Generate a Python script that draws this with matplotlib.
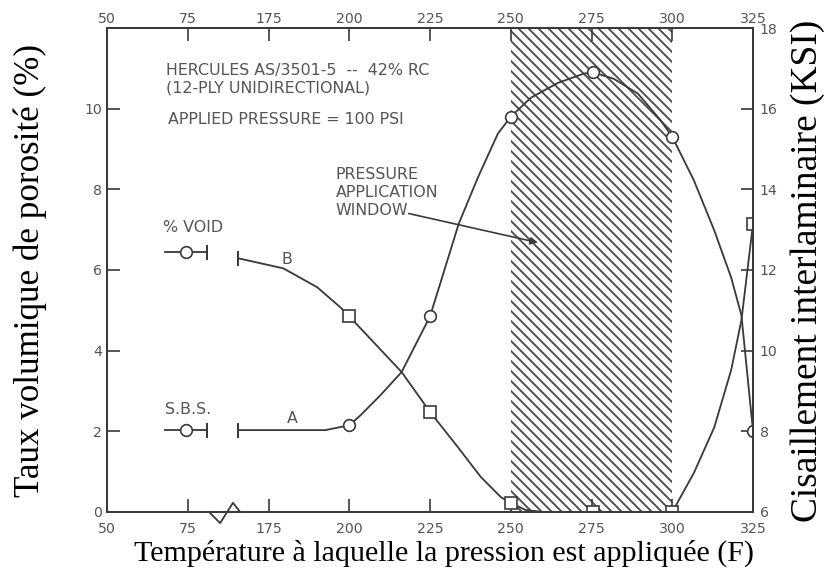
import numpy as np
import matplotlib
matplotlib.use("Agg")
import matplotlib.pyplot as plt

plt.rcParams["hatch.linewidth"] = 1.1
plt.rcParams["hatch.color"] = "#4a4a4a"

INK = "#3a3a3a"
LETTER = "#555555"
STENCIL = ["Liberation Sans Narrow", "DejaVu Sans"]
SERIF = ["Liberation Serif", "DejaVu Serif"]

# temperature axis is broken between 75 and 175 F
brk_t = [50, 75, 175, 325]
brk_u = [0, 1, 2, 8]

temp_ticks = [50, 75, 175, 200, 225, 250, 275, 300, 325]
void_ticks = [0, 2, 4, 6, 8, 10]
sbs_ticks = [6, 8, 10, 12, 14, 16, 18]

# test points
sbs_temp = [200, 225, 250, 275.5, 300, 325]
sbs_ksi = [8.15, 10.85, 15.8, 16.9, 15.3, 8.0]
void_temp = [200, 225, 250, 275.5, 300, 325]
void_pct = [4.85, 2.48, 0.22, 0.0, 0.0, 7.15]

# faired curves (A = short beam shear, B = void content)
sbs_curve_t = [192.6, 200, 203.5, 209.7, 216.2, 225, 233.9, 239.8, 246.0, 250,
               256.2, 264.6, 272.7, 275.5, 281.9, 289.4, 296.5, 300, 306.7, 313.0,
               318.2, 321.4, 325]
sbs_curve_ksi = [8.03, 8.15, 8.40, 8.90, 9.47, 10.85, 13.15, 14.29, 15.38, 15.8,
                 16.27, 16.64, 16.87, 16.9, 16.74, 16.37, 15.70, 15.3, 14.22, 12.98,
                 11.82, 10.88, 8.0]
void_curve_t = [179.6, 190.1, 197.3, 200, 216.2, 225, 233.6, 240.7, 246.9, 250,
                254.6, 260, 275.5, 300, 306.7, 313.0, 318.2, 321.4, 325]
void_curve_pct = [6.04, 5.57, 5.07, 4.85, 3.47, 2.48, 1.61, 0.87, 0.37, 0.22,
                  0.05, 0.0, 0.0, 0.0, 0.97, 2.10, 3.51, 4.75, 7.15]
sbs_start = 8.03
void_start = 6.29

window = (250, 300)


def fwd(t):
    return np.interp(t, brk_t, brk_u)


def inv(u):
    return np.interp(u, brk_u, brk_t)


fig = plt.figure(figsize=(833 / 120, 581 / 120), dpi=120)
ax = fig.add_axes([0.1285, 0.1188, 0.7755, 0.833])
ax.set_xscale("function", functions=(fwd, inv))
ax.set_xlim(50, 325)
ax.set_ylim(0, 12)
ax2 = ax.twinx()
ax2.set_ylim(6, 18)
# separate top axis so its labels can sit closer to the frame
ax_top = ax.twiny()
ax_top.set_xscale("function", functions=(fwd, inv))
ax_top.set_xlim(50, 325)

for a in (ax, ax2, ax_top):
    for s in a.spines.values():
        s.set_color(INK)
        s.set_linewidth(1.2)

tick_kw = dict(direction="in", width=1.0, color=INK, labelcolor=LETTER,
               labelsize=8.5)
ax.set_xticks(temp_ticks)
ax.set_xticklabels([str(t) for t in temp_ticks], family=STENCIL)
ax.tick_params(axis="x", length=8, pad=6, **tick_kw)
ax_top.set_xticks(temp_ticks)
ax_top.set_xticklabels([str(t) for t in temp_ticks], family=STENCIL)
ax_top.tick_params(axis="x", length=8, pad=1.5, **tick_kw)
ax.set_yticks(void_ticks)
ax.set_yticklabels([str(v) for v in void_ticks], family=STENCIL)
ax.tick_params(axis="y", length=8, pad=3, **tick_kw)
ax2.set_yticks(sbs_ticks)
ax2.set_yticklabels([str(v) for v in sbs_ticks], family=STENCIL)
ax2.tick_params(axis="y", length=7, pad=4, **tick_kw)

# pressure application window
ax.axvspan(window[0], window[1], facecolor="none", edgecolor="#4a4a4a",
           hatch="\\\\\\\\", linewidth=0, zorder=0.5)

# lead-in start of both curves sits inside the axis break
lead_t = inv(1.625)

ax.plot([lead_t] + void_curve_t, [void_start] + void_curve_pct,
        color=INK, lw=1.1, zorder=3)
ax.plot(void_temp, void_pct, "s", ms=7, mfc="white", mec=INK, mew=1.0, zorder=4)
ax.plot([lead_t], [void_start], marker="|", ms=9, mew=1.2, color=INK)

ax2.plot([lead_t] + sbs_curve_t, [sbs_start] + sbs_curve_ksi,
         color=INK, lw=1.1, zorder=3)
ax2.plot(sbs_temp, sbs_ksi, "o", ms=7, mfc="white", mec=INK, mew=1.0, zorder=4)
ax2.plot([lead_t], [sbs_start], marker="|", ms=9, mew=1.2, color=INK)

ax.text(180.8, 6.26, "B", family=STENCIL, fontsize=9.5, color=LETTER,
        ha="center", va="center")
ax2.text(182.4, 8.33, "A", family=STENCIL, fontsize=9.5, color=LETTER,
         ha="center", va="center")

# key symbols beside the curve starts
ax.text(0.087, 0.587, "% VOID", transform=ax.transAxes, family=STENCIL,
        fontsize=9.5, color=LETTER, ha="left", va="center")
ax.text(0.090, 0.211, "S.B.S.", transform=ax.transAxes, family=STENCIL,
        fontsize=9.5, color=LETTER, ha="left", va="center")
for a, yv in ((ax, 6.44), (ax2, sbs_start)):
    tr = a.get_yaxis_transform()
    a.plot([0.090, 0.155], [yv, yv], transform=tr, color=INK, lw=1.1)
    a.plot([0.1223], [yv], "o", transform=tr, ms=7, mfc="white", mec=INK, mew=1.0)
    a.plot([0.155], [yv], marker="|", transform=tr, ms=9, mew=1.2, color=INK)

# axis break mark
ax.plot([0.161, 0.204], [0, 0], transform=ax.transAxes, color="white",
        lw=3, clip_on=False, zorder=5)
ax.plot([0.158, 0.175, 0.195, 0.206], [0, -0.023, 0.019, 0],
        transform=ax.transAxes, color=INK, lw=1.1, clip_on=False, zorder=6)

ax.text(0.091, 0.913, "HERCULES AS/3501-5  --  42% RC", transform=ax.transAxes,
        family=STENCIL, fontsize=9.5, color=LETTER, ha="left", va="center")
ax.text(0.091, 0.876, "(12-PLY UNIDIRECTIONAL)", transform=ax.transAxes,
        family=STENCIL, fontsize=9.5, color=LETTER, ha="left", va="center")
ax.text(0.094, 0.810, "APPLIED PRESSURE = 100 PSI", transform=ax.transAxes,
        family=STENCIL, fontsize=9.5, color=LETTER, ha="left", va="center")

ax.text(195.7, 8.56, "PRESSURE\nAPPLICATION\nWINDOW", family=STENCIL,
        fontsize=9.5, color=LETTER, ha="left", va="top", linespacing=1.25)
ax.annotate("", xy=(258.4, 6.68), xytext=(218.4, 7.40),
            arrowprops=dict(arrowstyle="-|>", color=INK, lw=1.0,
                            mutation_scale=9, shrinkA=0, shrinkB=0))

fig.text(0.533, 0.048, "Température à laquelle la pression est appliquée (F)",
         family=SERIF, fontsize=18, ha="center", va="center")
fig.text(0.036, 0.534, "Taux volumique de porosité (%)", family=SERIF,
         fontsize=21, rotation=90, ha="center", va="center")
fig.text(0.970, 0.534, "Cisaillement interlaminaire (KSI)", family=SERIF,
         fontsize=22.4, rotation=90, ha="center", va="center")

fig.savefig("out.png", dpi=120)
